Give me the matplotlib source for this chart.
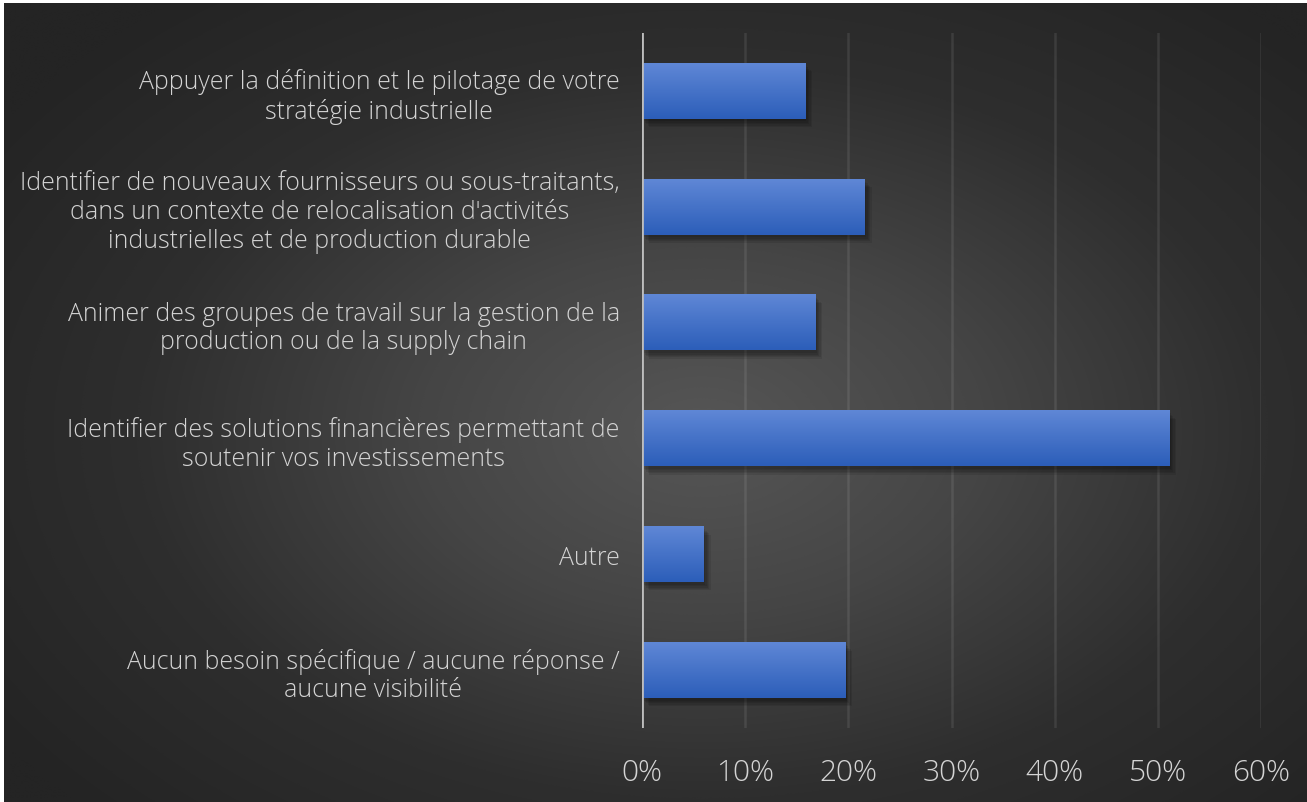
import numpy as np
import matplotlib
matplotlib.use("Agg")
import matplotlib.pyplot as plt
import matplotlib.patheffects as pe
from matplotlib.colors import LinearSegmentedColormap
from matplotlib.ticker import PercentFormatter

# données
categories = [
    "Appuyer la définition et le pilotage de votre\nstratégie industrielle",
    "Identifier de nouveaux fournisseurs ou sous-traitants,\ndans un contexte de relocalisation d'activités\nindustrielles et de production durable",
    "Animer des groupes de travail sur la gestion de la\nproduction ou de la supply chain",
    "Identifier des solutions financières permettant de\nsoutenir vos investissements",
    "Autre",
    "Aucun besoin spécifique / aucune réponse /\naucune visibilité",
]
values = [0.158, 0.216, 0.168, 0.511, 0.060, 0.197]
xticks = [0, 0.1, 0.2, 0.3, 0.4, 0.5, 0.6]

W, H = 1307, 803
fig = plt.figure(figsize=(W / 100, H / 100), dpi=100, facecolor="white")

# fond dégradé radial
bg = fig.add_axes([4 / W, 0, 1 - 4 / W, 1 - 4 / H])
yy, xx = np.mgrid[0:H, 0:W]
d = np.sqrt(((xx - 700) / 1000.0) ** 2 + ((yy - 430) / 650.0) ** 2)
d = np.clip(d / 0.85, 0, 1)
bg_cmap = LinearSegmentedColormap.from_list("bg", ["#565656", "#454545", "#2e2e2e", "#242424"])
bg.imshow(d, cmap=bg_cmap, aspect="auto", extent=[0, 1, 0, 1], origin="upper", vmin=0, vmax=1)
bg.axis("off")

ax = fig.add_axes([642 / W, 1 - 729 / H, (1261 - 642) / W, (729 - 34) / H])
ax.patch.set_alpha(0)

# ombre douce : plusieurs ombres légères superposées
shadow = [pe.SimplePatchShadow(offset=(o, -o - 1), shadow_rgbFace="black", alpha=0.09)
          for o in (1, 2, 3, 4, 5)]
y = np.arange(len(categories))
bars = ax.barh(y, values, height=0.48, color="#3f6cc8",
               path_effects=shadow + [pe.Normal()])

bar_cmap = LinearSegmentedColormap.from_list("bar", ["#5f87d6", "#2c5eb9"])
grad = np.linspace(0, 1, 100).reshape(-1, 1)
for b in bars:
    x0, y0 = b.get_x(), b.get_y()
    ax.imshow(grad, cmap=bar_cmap, aspect="auto",
              extent=[x0, x0 + b.get_width(), y0 + b.get_height(), y0],
              zorder=b.get_zorder() + 0.1, clip_path=b, clip_on=True)

ax.set_xlim(0, 0.6)
ax.set_ylim(len(categories) - 0.5, -0.5)
ax.set_xticks(xticks)
ax.xaxis.set_major_formatter(PercentFormatter(1.0, decimals=0))
ax.grid(axis="x", color="white", alpha=0.09, linewidth=1.8)
ax.set_axisbelow(True)
ax.axvline(0, color="#bdbdbd", linewidth=2, zorder=5)

for s in ax.spines.values():
    s.set_visible(False)

ax.set_yticks(y)
ax.set_yticklabels(categories, multialignment="center", fontsize=17.9,
                   color="#d4d4d4", family="Open Sans", fontweight="light")
ax.tick_params(axis="y", length=0, pad=16)
ax.tick_params(axis="x", length=0, pad=21, labelsize=21.5, labelcolor="#d4d4d4")
for t in ax.get_xticklabels():
    t.set_family("Open Sans")
    t.set_fontweight("light")

fig.savefig("out.png", dpi=100, facecolor="white")
